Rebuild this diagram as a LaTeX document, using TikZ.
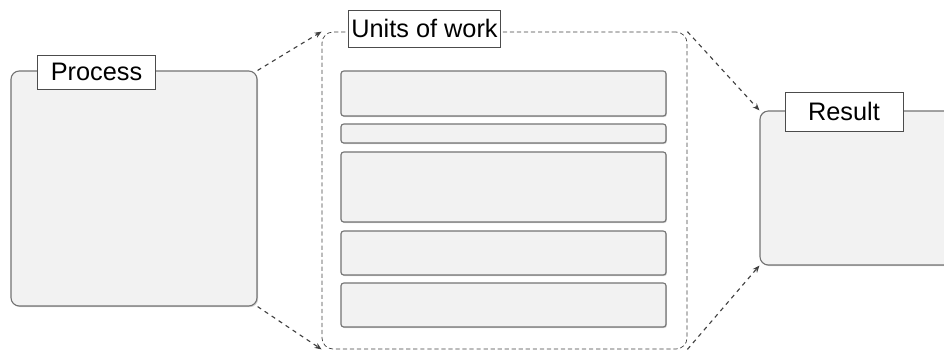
\documentclass[tikz,border=0pt]{standalone}
\usepackage{fontspec}
\setmainfont{Liberation Sans}
\usetikzlibrary{arrows.meta,shadows}

\begin{document}
\begin{tikzpicture}[
    x=0.025cm, y=-0.025cm,
    panel/.style={draw=black!55, fill=black!5, rounded corners=6pt, line width=0.8pt, drop shadow={shadow xshift=0.8pt, shadow yshift=-0.8pt, opacity=0.35}},
    bar/.style={draw=black!55, fill=black!5, rounded corners=2pt, line width=0.8pt, minimum width=8.125cm, drop shadow={shadow xshift=0.6pt, shadow yshift=-0.8pt, opacity=0.35}},
    tag/.style={draw=black!70, fill=white, line width=0.7pt, inner sep=0pt, font=\fontsize{18}{20}\selectfont},
    frame/.style={draw=black!75, densely dashed, rounded corners=8pt, line width=0.5pt},
    arr/.style={-{Stealth[length=5pt,width=4pt]}, draw=black!75, dashed, line width=0.8pt}
]
\clip (0,0) rectangle (944,351);

% left and right panels
\node[panel, minimum width=6.15cm, minimum height=5.875cm] (proc) at (134,188.5) {};
\node[panel, minimum width=6.25cm, minimum height=3.85cm] (res) at (885,188) {};

% dashed frame with the work items
\node[frame, minimum width=9.125cm, minimum height=7.925cm] (units) at (504.5,190.5) {};
\node[bar, minimum height=1.125cm] (w1) at (503.5,93.5) {};
\node[bar, minimum height=0.475cm] (w2) at (503.5,133.5) {};
\node[bar, minimum height=1.75cm] (w3) at (503.5,187) {};
\node[bar, minimum height=1.1cm] (w4) at (503.5,253) {};
\node[bar, minimum height=1.1cm] (w5) at (503.5,305) {};

% titles
\node[tag, minimum width=2.925cm, minimum height=0.85cm] (proclbl) at (96.5,72) {Process};
\node[tag, minimum width=3.775cm, minimum height=0.925cm] (unitslbl) at (424.5,28.5) {Units of work};
\node[tag, minimum width=2.95cm, minimum height=0.975cm] (reslbl) at (844,111.5) {Result};

\draw[arr] (proc.north east) -- (units.north west);
\draw[arr] (proc.south east) -- (units.south west);
\draw[arr] (units.north east) -- (res.north west);
\draw[arr] (units.south east) -- (res.south west);
\end{tikzpicture}
\end{document}
